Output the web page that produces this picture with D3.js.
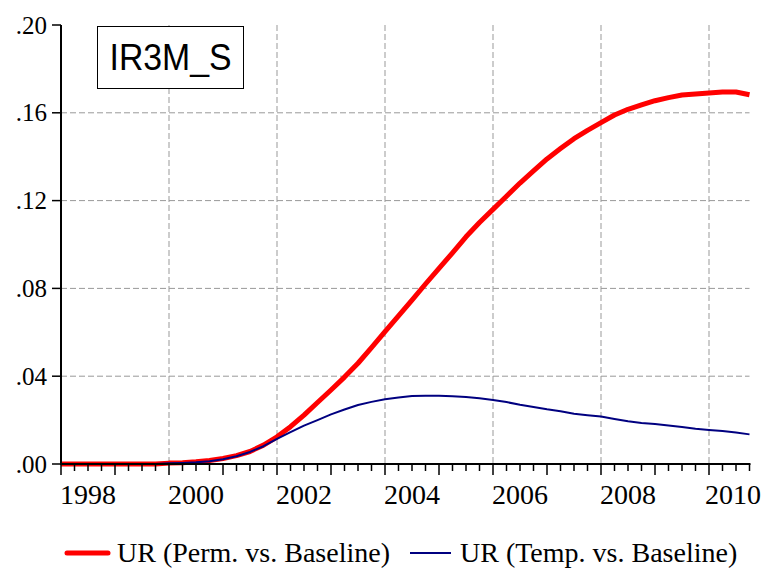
<!DOCTYPE html>
<meta charset="utf-8">
<style>
body { margin: 0; background: #fff; }
svg { display: block; }
.serif { font-family: 'Liberation Serif', 'DejaVu Serif', serif; }
.ytick text { font-size: 25px; }
.xlab { font-size: 28px; }
.legend text { font-size: 28px; }
.title { font-family: 'Liberation Sans', Arial, sans-serif; font-size: 36px; }
.grid { stroke: #999; stroke-width: 1; stroke-dasharray: 6,3; }
</style>
<body>
<script src="https://cdn.jsdelivr.net/npm/d3@7"></script>
<script>
// quarterly data, 1998Q1 .. 2010Q4
var years = [1998, 1999, 2000, 2001, 2002, 2003, 2004, 2005, 2006, 2007, 2008, 2009, 2010];
var permValues = [
  0, 0, 0, 0,                               // 1998
  0, 0, 0, 0,                               // 1999
  0.0004, 0.0006, 0.0010, 0.0016,           // 2000
  0.0025, 0.0038, 0.0057, 0.0086,           // 2001
  0.0124, 0.0170, 0.0223, 0.0280,           // 2002
  0.0337, 0.0396, 0.0459, 0.0530,           // 2003
  0.0603, 0.0675, 0.0747, 0.0820,           // 2004
  0.0891, 0.0962, 0.1035, 0.1100,           // 2005
  0.1160, 0.1220, 0.1280, 0.1335,           // 2006
  0.1390, 0.1437, 0.1482, 0.1520,           // 2007
  0.1555, 0.1590, 0.1616, 0.1636,           // 2008
  0.1655, 0.1669, 0.1681, 0.1686,           // 2009
  0.1690, 0.1695, 0.1695, 0.1682            // 2010
];
var tempValues = [
  0, 0, 0, 0,
  0, 0, 0, 0,
  0.0003, 0.0005, 0.0008, 0.0013,
  0.0022, 0.0035, 0.0055, 0.0081,
  0.0114, 0.0145, 0.0175, 0.0200,
  0.0226, 0.0248, 0.0269, 0.0283,
  0.0295, 0.0303, 0.0310, 0.0311,
  0.0311, 0.0309, 0.0305, 0.0299,
  0.0292, 0.0282, 0.0270, 0.0260,
  0.0249, 0.0240, 0.0229, 0.0222,
  0.0216, 0.0205, 0.0195, 0.0187,
  0.0182, 0.0175, 0.0169, 0.0161,
  0.0155, 0.0150, 0.0143, 0.0135
];
var yTicks = [0, 0.04, 0.08, 0.12, 0.16, 0.20];
var xLabels = [1998, 2000, 2002, 2004, 2006, 2008, 2010];
var gridYears = [2000, 2002, 2004, 2006, 2008, 2010];
var seriesNames = ["UR (Perm. vs. Baseline)", "UR (Temp. vs. Baseline)"];

var width = 766, height = 570;

// dates as fractional years
var dates = [];
years.forEach(function(y) { for (var q = 0; q < 4; q++) dates.push(y + q / 4); });

var x = d3.scaleLinear().domain([1998, 2010.75]).range([61, 749.5]);
var y = d3.scaleLinear().domain([0, 0.20]).range([464, 25]);

var svg = d3.select("body").append("svg")
    .attr("width", width)
    .attr("height", height);

// grid lines
svg.selectAll(".hgrid")
    .data(yTicks.filter(function(d) { return d > 0 && d < 0.2; }))
  .enter().append("line")
    .attr("class", "grid")
    .attr("x1", x(1998)).attr("x2", x(2010.75))
    .attr("y1", function(d) { return y(d); })
    .attr("y2", function(d) { return y(d); });

svg.selectAll(".vgrid")
    .data(gridYears)
  .enter().append("line")
    .attr("class", "grid")
    .attr("x1", function(d) { return x(d); })
    .attr("x2", function(d) { return x(d); })
    .attr("y1", y(0.20)).attr("y2", y(0));

// title box
var tb = svg.append("g");
tb.append("rect")
    .attr("x", 97.5).attr("y", 26.5)
    .attr("width", 146).attr("height", 62)
    .attr("fill", "#fff").attr("stroke", "#000").attr("stroke-width", 1);
tb.append("text")
    .attr("class", "title")
    .attr("x", 170.5).attr("y", 70)
    .attr("text-anchor", "middle")
    .attr("textLength", 122)
    .attr("lengthAdjust", "spacingAndGlyphs")
    .text("IR3M_S");

// lines
var line = d3.line()
    .x(function(d, i) { return x(dates[i]); })
    .y(function(d) { return y(d); });

svg.append("path")
    .datum(permValues)
    .attr("fill", "none")
    .attr("stroke", "#ff0000")
    .attr("stroke-width", 5)
    .attr("stroke-linejoin", "round")
    .attr("d", line);

svg.append("path")
    .datum(tempValues)
    .attr("fill", "none")
    .attr("stroke", "#000080")
    .attr("stroke-width", 2)
    .attr("stroke-linejoin", "round")
    .attr("d", line);

// y axis
svg.append("line")
    .attr("x1", 61).attr("x2", 61)
    .attr("y1", y(0.20)).attr("y2", y(0) + 1)
    .attr("stroke", "#000").attr("stroke-width", 2);

var yt = svg.selectAll(".ytick")
    .data(yTicks)
  .enter().append("g")
    .attr("class", "ytick serif")
    .attr("transform", function(d) { return "translate(0," + y(d) + ")"; });
yt.append("line")
    .attr("x1", 52).attr("x2", 61)
    .attr("stroke", "#000").attr("stroke-width", 1.5);
yt.append("text")
    .attr("x", 47).attr("y", 8.5)
    .attr("text-anchor", "end")
    .text(function(d) { return d3.format(".2f")(d).replace(/^0/, ""); });

// x axis
svg.append("line")
    .attr("x1", 60).attr("x2", x(2010.75) + 1)
    .attr("y1", y(0)).attr("y2", y(0))
    .attr("stroke", "#000").attr("stroke-width", 2);

svg.selectAll(".xtick")
    .data(dates)
  .enter().append("line")
    .attr("class", "xtick")
    .attr("x1", function(d) { return x(d); })
    .attr("x2", function(d) { return x(d); })
    .attr("y1", y(0))
    .attr("y2", function(d) { return y(0) + (d % 1 === 0 ? 11 : 7); })
    .attr("stroke", "#000").attr("stroke-width", 1.5);

svg.selectAll(".xlab")
    .data(xLabels)
  .enter().append("text")
    .attr("class", "xlab serif")
    .attr("x", function(d) { return Math.min(x(d + 0.5), 733); })
    .attr("y", 504)
    .attr("text-anchor", "middle")
    .text(function(d) { return d; });

// legend
var legend = svg.append("g").attr("class", "legend serif");
var legendItems = [
  {name: seriesNames[0], color: "#ff0000", w: 5, x: 67},
  {name: seriesNames[1], color: "#000080", w: 2, x: 410}
];
var li = legend.selectAll("g")
    .data(legendItems)
  .enter().append("g")
    .attr("transform", function(d) { return "translate(" + d.x + ",553)"; });
li.append("line")
    .attr("x1", 0).attr("x2", 41)
    .attr("stroke", function(d) { return d.color; })
    .attr("stroke-width", function(d) { return d.w; })
    .attr("stroke-linecap", function(d) { return d.w > 3 ? "round" : "butt"; });
li.append("text")
    .attr("x", 50).attr("y", 9)
    .text(function(d) { return d.name; });
</script>
</body>
